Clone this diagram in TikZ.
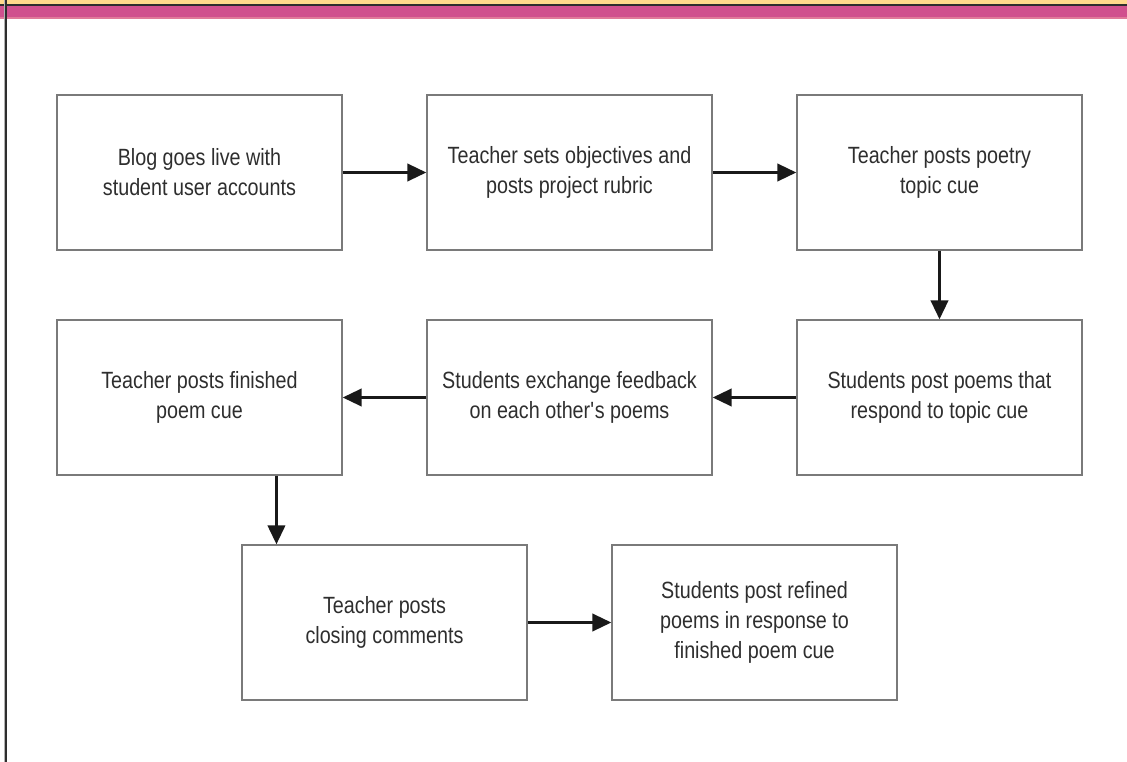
\documentclass[tikz,border=0pt]{standalone}
\usepackage{fontspec}
\setmainfont{Liberation Sans}[FakeStretch=0.84]
\usetikzlibrary{arrows.meta,calc}
\definecolor{bandyellow}{HTML}{FFD98C}
\definecolor{bandpink}{HTML}{D0508E}
\definecolor{bandedge}{HTML}{E07A9A}
\definecolor{boxline}{HTML}{7A7A7A}
\definecolor{railgrey}{HTML}{2E2E2E}
\tikzset{
  x=1pt, y=-1pt,
  stepbox/.style={draw=boxline, line width=1.1pt, minimum width=285pt, minimum height=155pt,
    align=center, font=\fontsize{23.5}{30}\selectfont, text=black!82, inner sep=0pt},
  flow/.style={line width=3.6pt, -{Triangle[length=19pt,width=17pt]}, black!90}
}
\begin{document}
\begin{tikzpicture}
\useasboundingbox (0,0) rectangle (1127,762);
% header bands
\fill[bandyellow] (0,0) rectangle (1127,4.5);
\fill[railgrey] (0,4) rectangle (1127,5.8);
\fill[bandpink] (0,5.8) rectangle (1127,17.5);
\fill[bandedge] (0,17.5) rectangle (1127,19);
% left rail
\fill[gray!60] (3.5,0) rectangle (5,762);
\fill[railgrey] (5,0) rectangle (7.2,762);

% steps
\node[stepbox] (b1) at (199.5,172.5) {Blog goes live with\\student user accounts};
\node[stepbox] (b2) at (569.5,172.5) {Teacher sets objectives and\\posts project rubric};
\node[stepbox] (b3) at (939.5,172.5) {Teacher posts poetry\\topic cue};
\node[stepbox] (b4) at (199.5,397.5) {Teacher posts finished\\poem cue};
\node[stepbox] (b5) at (569.5,397.5) {Students exchange feedback\\on each other\textquotesingle s poems};
\node[stepbox] (b6) at (939.5,397.5) {Students post poems that\\respond to topic cue};
\node[stepbox] (b7) at (384.5,622.5) {Teacher posts\\closing comments};
\node[stepbox] (b8) at (754.5,622.5) {Students post refined\\poems in response to\\finished poem cue};

% connectors
\coordinate (drop) at ($(b7.north west)+(35,0)$);
\draw[flow] (b1.east) -- (b2.west);
\draw[flow] (b2.east) -- (b3.west);
\draw[flow] (b3.south) -- (b6.north);
\draw[flow] (b6.west) -- (b5.east);
\draw[flow] (b5.west) -- (b4.east);
\draw[flow] (b4.south -| drop) -- (drop);
\draw[flow] (b7.east) -- (b8.west);
\end{tikzpicture}
\end{document}
